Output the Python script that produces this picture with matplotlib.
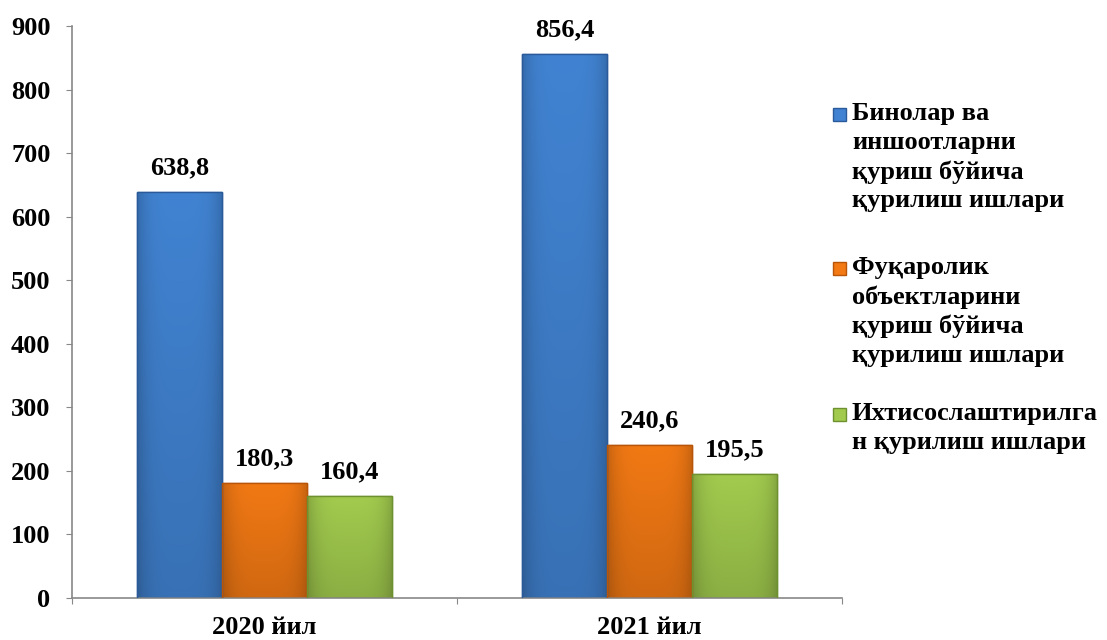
import matplotlib
matplotlib.use("Agg")
import matplotlib.pyplot as plt
import numpy as np
from matplotlib.patches import Rectangle
from matplotlib.colors import to_rgb

categories = ["2020 йил", "2021 йил"]
series_names = [
    "Бинолар ва\nиншоотларни\nқуриш бўйича\nқурилиш ишлари",
    "Фуқаролик\nобъектларини\nқуриш бўйича\nқурилиш ишлари",
    "Ихтисослаштирилга\nн қурилиш ишлари",
]
buildings = [638.8, 856.4]
civil = [180.3, 240.6]
specialized = [160.4, 195.5]
value_labels = [["638,8", "856,4"], ["180,3", "240,6"], ["160,4", "195,5"]]
yticks = [0, 100, 200, 300, 400, 500, 600, 700, 800, 900]

colors = ["#4183D2", "#F27914", "#A2CB4E"]
edges = ["#2A5A9A", "#B85508", "#6E9130"]

plt.rcParams['font.family'] = ['Liberation Serif', 'DejaVu Serif']
plt.rcParams['font.weight'] = 'bold'

FS = 19

fig = plt.figure(figsize=(11.07, 6.4), dpi=100)
ax = fig.add_axes([72/1107, 42/640, 770/1107, 572/640])


def shaded(color, nx=60, ny=120):
    c = np.array(to_rgb(color))
    xs = np.linspace(-1, 1, nx)
    ys = np.linspace(0, 1, ny)  # 0 bottom, 1 top
    hx = 1.0 - 0.18 * np.abs(xs) ** 4
    vy = 0.86 + 0.14 * ys
    fac = vy[:, None] * hx[None, :]
    img = np.clip(fac[..., None] * c[None, None, :], 0, 1)
    return img[::-1]


x = np.arange(len(categories))
w = 0.221
series = [buildings, civil, specialized]
for i, vals in enumerate(series):
    pos = x + (i - 1) * w
    bars = ax.bar(pos, vals, width=w, color=colors[i], edgecolor=edges[i], linewidth=1.0, zorder=2)
    for b in bars:
        x0, y0 = b.get_x(), b.get_y()
        im = ax.imshow(shaded(colors[i]), extent=[x0, x0 + b.get_width(), y0, y0 + b.get_height()],
                       aspect='auto', zorder=2.5, interpolation='bilinear')
        im.set_clip_path(b)
        ax.add_patch(Rectangle((x0, y0), b.get_width(), b.get_height(), fill=False,
                               edgecolor=edges[i], linewidth=1.0, zorder=3))
    for p, v, lab in zip(pos, vals, value_labels[i]):
        ax.text(p, v + 20, lab, ha='center', va='bottom', fontsize=FS, fontweight='bold')

ax.set_xlim(-0.5, 1.5)
ax.set_ylim(0, 900)
ax.set_yticks(yticks)
ax.set_yticklabels([str(t) for t in yticks], fontsize=FS, fontweight='bold')
ax.set_xticks([-0.5, 0.5, 1.5])
ax.set_xticklabels([])
ax.set_xticks(x, minor=True)
ax.set_xticklabels(categories, minor=True, fontsize=FS, fontweight='bold')
ax.tick_params(axis='x', which='minor', length=0, pad=13)
ax.tick_params(axis='x', which='major', length=4.5, color='#888888', direction='out')
ax.tick_params(axis='y', length=4.5, color='#888888', pad=11)
for s in ['top', 'right']:
    ax.spines[s].set_visible(False)
for s in ['left', 'bottom']:
    ax.spines[s].set_color('#888888')
    ax.spines[s].set_linewidth(1.2)

# legend (manual, markers aligned with first line)
W, H = 1107, 640
entry_tops = [116, 270, 416]
for i, (name, ty) in enumerate(zip(series_names, entry_tops)):
    fig.text(852 / W, 1 - (ty - 14) / H, name, ha='left', va='top', fontsize=FS,
             fontweight='bold', linespacing=1.33)
    fig.patches.append(Rectangle((833 / W, 1 - (ty + 5) / H), 13 / W, 13 / H,
                                 transform=fig.transFigure, facecolor=colors[i],
                                 edgecolor=edges[i], linewidth=1.0))

fig.savefig("out.png", dpi=100)
